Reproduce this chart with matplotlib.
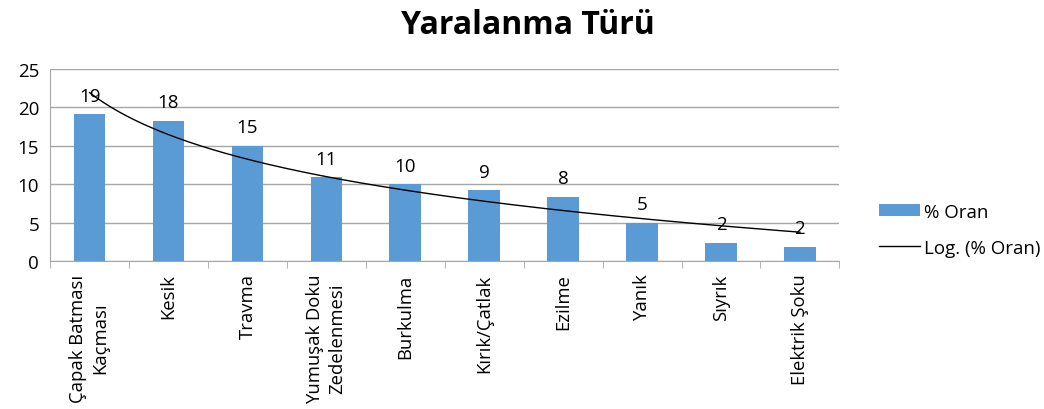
"""
Yaralanma Türü - bar chart with logarithmic trendline
"""

import numpy as np
import matplotlib
matplotlib.use('Agg')
import matplotlib.pyplot as plt
from matplotlib.patches import Patch
from matplotlib.lines import Line2D

plt.rcParams['font.family'] = ['Open Sans', 'DejaVu Sans']

# Data
categories = ['Çapak Batması\nKaçması', 'Kesik', 'Travma', 'Yumuşak Doku\nZedelenmesi',
              'Burkulma', 'Kırık/Çatlak', 'Ezilme', 'Yanık', 'Sıyrık', 'Elektrik Şoku']
oran = [19.1, 18.3, 15.0, 10.9, 10.0, 9.2, 8.4, 5.0, 2.4, 1.8]
y_ticks = [0, 5, 10, 15, 20, 25]

bar_color = '#5B9BD5'
grid_color = '#A6A6A6'

fig = plt.figure(figsize=(10.44, 4.10), dpi=100)
ax = fig.add_axes([0.048, 0.361, 0.756, 0.468])

x = np.arange(len(categories))
ax.bar(x, oran, width=0.4, color=bar_color, zorder=2)

# Data labels (rounded, like Excel)
for xi, v in zip(x, oran):
    ax.annotate(f'{v:.0f}', xy=(xi, v), xytext=(0, 7), textcoords='offset points',
                ha='center', va='bottom', fontsize=13.5, color='black', zorder=4)

# Logarithmic trendline: y = a*ln(n) + b, n = 1..N
n = x + 1
a, b = np.polyfit(np.log(n), oran, 1)
xs = np.linspace(1, len(categories), 200)
ax.plot(xs - 1, a * np.log(xs) + b, color='black', linewidth=1, zorder=3)

ax.set_xlim(-0.5, len(categories) - 0.5)
ax.set_ylim(0, 25)
ax.set_yticks(y_ticks)
ax.yaxis.grid(True, color=grid_color, linewidth=1, zorder=0)
ax.tick_params(axis='y', length=0, labelsize=13.5, pad=8)

# Category labels rotated, ticks at category boundaries
ax.set_xticks(x)
ax.set_xticklabels(categories, rotation=90, fontsize=13.3, va='top', ha='center',
                   multialignment='center', linespacing=1.3)
ax.tick_params(axis='x', length=0, pad=9)
ax.set_xticks(np.arange(-0.5, len(categories) + 0.5, 1), minor=True)
ax.tick_params(axis='x', which='minor', length=5, color=grid_color)

for side in ['top', 'right']:
    ax.spines[side].set_visible(False)
for side in ['left', 'bottom']:
    ax.spines[side].set_color(grid_color)

fig.suptitle('Yaralanma Türü', x=0.506, y=0.978, fontsize=23, fontweight='bold')

handles = [Patch(facecolor=bar_color, edgecolor='none'),
           Line2D([0], [0], color='black', linewidth=1)]
fig.legend(handles, ['% Oran', 'Log. (% Oran)'], loc='center left',
           bbox_to_anchor=(0.826, 0.437), frameon=False, fontsize=13.5,
           handlelength=2.2, handleheight=0.6, labelspacing=0.95, handletextpad=0.2)

fig.savefig('out.png', dpi=100)
